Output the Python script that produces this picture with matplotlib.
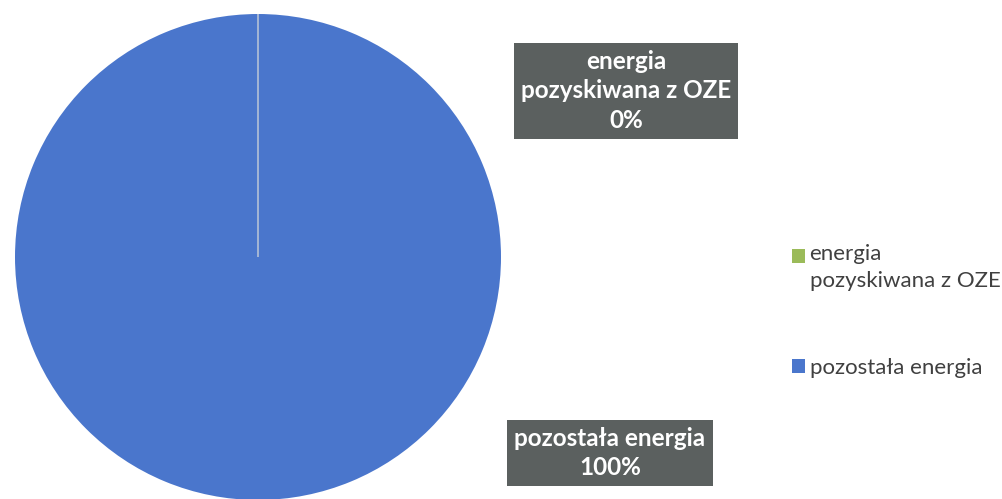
import matplotlib.pyplot as plt
from matplotlib.patches import Patch, Rectangle
from matplotlib.legend_handler import HandlerPatch

# energy share: renewable vs. the rest
labels = ["energia\npozyskiwana z OZE", "pozostała energia"]
shares = [0, 100]
colors = ["#9bbb59", "#4a76cc"]

plt.rcParams['font.family'] = ['Lato', 'DejaVu Sans']

fig = plt.figure(figsize=(10.02, 4.99), dpi=100)
ax = fig.add_axes([15 / 1002, -1 / 499, 486 / 1002, 486 / 499])
wedges, _ = ax.pie(shares, colors=colors, startangle=90, counterclock=False)
wedges[1].set_edgecolor("none")
# the empty slice only shows as its border, keep it above the big one
wedges[0].set_edgecolor("#c9d0d8")
wedges[0].set_linewidth(1.0)
wedges[0].set_zorder(5)
ax.set_xlim(-1.0, 1.0)
ax.set_ylim(-1.0, 1.0)
ax.set_aspect("equal")

box = dict(boxstyle="square,pad=0.3", facecolor="#5b605f", edgecolor="none")
fig.text(626 / 1002, 1 - 91 / 499,
         f"{labels[0]}\n{shares[0]}%", ha="center", va="center",
         color="white", fontsize=17.5, fontweight="bold", linespacing=1.32, bbox=box)
fig.text(610 / 1002, 1 - 453 / 499,
         f"{labels[1]}\n{shares[1]}%", ha="center", va="center",
         color="white", fontsize=17.5, fontweight="bold", linespacing=1.32, bbox=box)


# put the marker of a two-line entry next to its first line
def first_line_patch(legend, orig_handle, xdescent, ydescent, width, height, fontsize):
    return Rectangle((-xdescent, -ydescent + 0.55 * fontsize), width, height)


handles = [Patch(facecolor=c, edgecolor="none") for c in colors]
leg = fig.legend(handles, labels, loc="center left", bbox_to_anchor=(792 / 1002, 1 - 311 / 499),
                 frameon=False, fontsize=16, labelcolor="#404040",
                 borderpad=0, borderaxespad=0,
                 handlelength=0.59, handleheight=0.59, handletextpad=0.2, labelspacing=3.0,
                 handler_map={handles[0]: HandlerPatch(patch_func=first_line_patch)})
for t in leg.get_texts():
    t.set_linespacing(1.45)

fig.savefig("out.png", dpi=100)
